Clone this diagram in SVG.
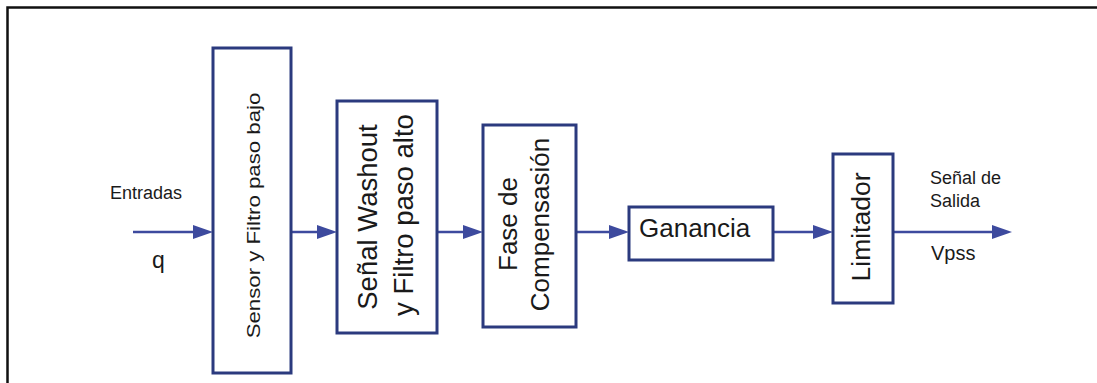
<svg xmlns="http://www.w3.org/2000/svg" width="1097" height="383" viewBox="0 0 1097 383">
  <defs>
    <marker id="arrow" markerUnits="userSpaceOnUse" markerWidth="20" markerHeight="14" refX="14" refY="7" orient="auto">
      <path d="M0,0 L20,7 L0,14 Z" fill="#3D4A9E"/>
    </marker>
    <style>
      .frame { fill: none; stroke: #111; stroke-width: 2.5; }
      .block { fill: #fff; stroke: #2B3A7E; stroke-width: 3; }
      .wire { fill: none; stroke: #3D4A9E; stroke-width: 2.6; marker-end: url(#arrow); }
      .lbl { font-family: "Liberation Sans", Arial, sans-serif; fill: #1a1a1a; }
      .mid { text-anchor: middle; }
    </style>
  </defs>

  <rect width="1097" height="383" fill="#fff"/>
  <!-- outer frame (top and left edges) -->
  <path class="frame" d="M7.5,385 L7.5,7.5 L1100,7.5"/>

  <!-- signal path -->
  <g id="connectors">
    <line class="wire" x1="133" y1="232" x2="207" y2="232"/>
    <line class="wire" x1="291" y1="232" x2="331" y2="232"/>
    <line class="wire" x1="437" y1="232" x2="477" y2="232"/>
    <line class="wire" x1="576" y1="232" x2="623" y2="232"/>
    <line class="wire" x1="773" y1="232" x2="827" y2="232"/>
    <line class="wire" x1="893" y1="232" x2="1006" y2="232"/>
  </g>

  <g id="input-labels">
    <text class="lbl" x="110" y="199" font-size="18">Entradas</text>
    <text class="lbl" x="152" y="268" font-size="23">q</text>
  </g>

  <g id="sensor">
    <rect class="block" x="213" y="48" width="78" height="325"/>
    <!-- label is stretched along its length -->
    <text class="lbl mid" font-size="19" transform="translate(260,215.5) rotate(-90) scale(1.17,1)">Sensor y Filtro paso bajo</text>
  </g>

  <g id="washout">
    <rect class="block" x="337" y="101" width="100" height="232"/>
    <text class="lbl mid" font-size="27.5" transform="translate(377,217) rotate(-90)">Señal Washout</text>
    <text class="lbl mid" font-size="27.5" transform="translate(413,215) rotate(-90)">y Filtro paso alto</text>
  </g>

  <g id="compensation">
    <rect class="block" x="483" y="125" width="93" height="202"/>
    <text class="lbl mid" font-size="26" transform="translate(517,224) rotate(-90)">Fase de</text>
    <text class="lbl mid" font-size="26" transform="translate(549,224.5) rotate(-90)">Compensasión</text>
  </g>

  <g id="gain">
    <rect class="block" x="629" y="207" width="144" height="53"/>
    <text class="lbl" x="639" y="237" font-size="26">Ganancia</text>
  </g>

  <g id="limiter">
    <rect class="block" x="833" y="154" width="60" height="149"/>
    <text class="lbl mid" font-size="26.5" transform="translate(870,227) rotate(-90)">Limitador</text>
  </g>

  <g id="output-labels">
    <text class="lbl" x="930" y="184" font-size="18">Señal de</text>
    <text class="lbl" x="930" y="207" font-size="18">Salida</text>
    <text class="lbl" x="931" y="260" font-size="20">Vpss</text>
  </g>
</svg>
